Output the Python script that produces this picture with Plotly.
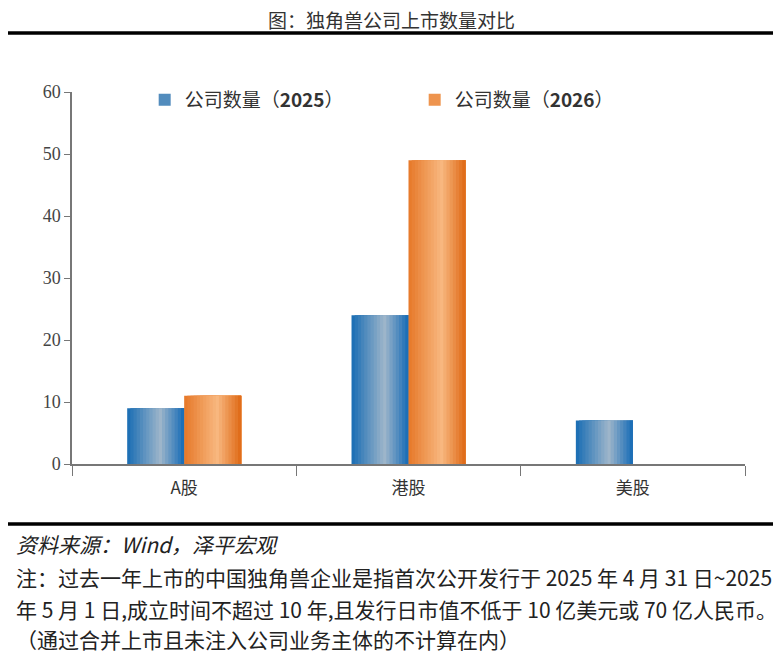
import plotly.graph_objects as go

# data
categories = ["A股", "港股", "美股"]
count_2025 = [9, 24, 7]
count_2026 = [11, 49, None]
series_names = ["公司数量（<b>2025</b>）", "公司数量（<b>2026</b>）"]
y_ticks = [0, 10, 20, 30, 40, 50, 60]

CJK = "Noto Sans CJK SC"
SERIF = "Times New Roman, Liberation Serif, serif"

BAR_W = 0.254      # width of one bar, in category units
N_STRIPS = 18      # vertical strips used to fake the shaded bars


def mix(c1, c2, t):
    return "rgb({},{},{})".format(*[int(round(a + (b - a) * t)) for a, b in zip(c1, c2)])


def shade(edge_l, mid, edge_r, t, peak=0.58):
    # dark edge -> light middle -> dark edge
    if t <= peak:
        return mix(edge_l, mid, t / peak)
    return mix(mid, edge_r, (t - peak) / (1 - peak))


palettes = [
    ((24, 108, 180), (158, 182, 202), (20, 106, 182)),   # blue
    ((230, 120, 40), (248, 184, 128), (222, 104, 20)),   # orange
]

fig = go.Figure()

for k, (values, name) in enumerate(zip([count_2025, count_2026], series_names)):
    edge_l, mid, edge_r = palettes[k]
    start = -BAR_W if k == 0 else 0.0
    sw = BAR_W / N_STRIPS
    for i in range(N_STRIPS):
        t = (i + 0.5) / N_STRIPS
        # each strip runs to the bar's right edge, the next one covers it
        fig.add_trace(go.Bar(
            x=categories, y=values,
            width=BAR_W - i * sw, offset=start + i * sw,
            marker=dict(color=shade(edge_l, mid, edge_r, t), line=dict(width=0)),
            name=name, legendgroup=name,
            showlegend=(i == N_STRIPS // 4),
            hoverinfo="skip",
        ))

fig.update_layout(
    # page body adds an 8px offset, so the figure is 8px smaller than the window
    width=773, height=652,
    barmode="overlay",
    paper_bgcolor="white", plot_bgcolor="white",
    margin=dict(l=64, r=36, t=84, b=196),
    font=dict(family=CJK, color="#333333"),
    showlegend=True,
    legend=dict(
        orientation="h", x=0.108, y=1.03, xanchor="left", yanchor="top",
        font=dict(family=CJK, size=19, color="#333333"),
        entrywidth=225, entrywidthmode="pixels",
        itemsizing="constant", bgcolor="rgba(0,0,0,0)",
    ),
    xaxis=dict(
        type="category", tickson="boundaries", ticks="outside", ticklen=10,
        tickcolor="#777777", showline=True, linecolor="#777777", linewidth=1.5,
        showgrid=False, tickfont=dict(family=CJK, size=17, color="#333333"),
        ticklabelstandoff=8, range=[-0.5, 2.5],
    ),
    yaxis=dict(
        range=[0, 60], tickvals=y_ticks, ticks="outside", ticklen=6,
        tickcolor="#777777", showline=True, linecolor="#777777", linewidth=1.5,
        showgrid=False, zeroline=False,
        tickfont=dict(family=SERIF, size=18, color="#444444"),
    ),
)


def py(pix):
    # pixel row of the reference picture -> paper y
    return (464 - pix) / 372


def px(pix):
    # pixel column of the reference picture -> paper x
    return (pix - 72) / 673


# title, rules and footnotes
fig.add_annotation(text="图：独角兽公司上市数量对比", xref="paper", yref="paper",
                   x=px(391), y=py(20), xanchor="center", yanchor="middle",
                   showarrow=False, font=dict(family=CJK, size=19, color="#333333"))

for row, w in [(33, 3.5), (524, 3.5)]:
    fig.add_shape(type="line", xref="paper", yref="paper", layer="below",
                  x0=px(4), x1=px(778), y0=py(row), y1=py(row),
                  line=dict(color="black", width=w))

notes = [
    ("<i>资料来源：Wind，泽平宏观</i>", 544),
    ("注：过去一年上市的中国独角兽企业是指首次公开发行于 2025 年 4 月 31 日~2025", 577),
    ("年 5 月 1 日,成立时间不超过 10 年,且发行日市值不低于 10 亿美元或 70 亿人民币。", 609),
    ("（通过合并上市且未注入公司业务主体的不计算在内）", 639),
]
for txt, row in notes:
    fig.add_annotation(text=txt, xref="paper", yref="paper",
                       x=px(14), y=py(row), xanchor="left", yanchor="middle",
                       showarrow=False, font=dict(family=CJK, size=21, color="#222222"))

fig.write_html("out.html")
